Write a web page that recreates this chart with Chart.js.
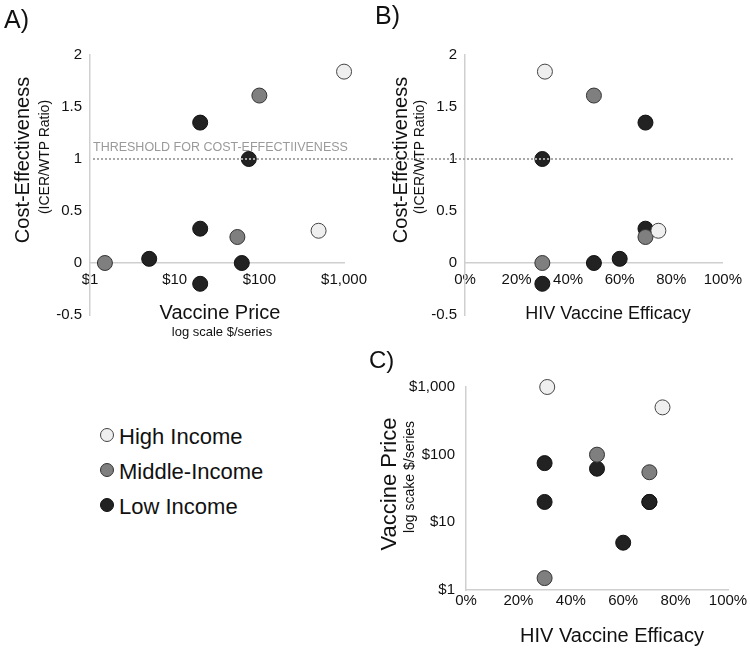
<!DOCTYPE html>
<html>
<head>
<meta charset="utf-8">
<title>HIV vaccine cost-effectiveness</title>
<script src="https://cdn.jsdelivr.net/npm/chart.js@4.4.0/dist/chart.umd.min.js"></script>
<style>
  body { margin: 0; background: #fff; }
  #page { position: relative; width: 750px; height: 650px; overflow: hidden; font-family: "Liberation Sans", Arial, sans-serif; color: #111; }
  canvas { position: absolute; }
  .txt { position: absolute; white-space: nowrap; line-height: 1; }
  .rot { transform: translate(-50%, -50%) rotate(-90deg); }
  .ctr { transform: translate(-50%, -50%); }
  .legend-row { position: absolute; left: 100px; font-size: 22px; line-height: 1; white-space: nowrap; }
  .legend-row span.dot { display: inline-block; width: 12px; height: 12px; border-radius: 50%; border: 1px solid #333; margin-right: 5px; vertical-align: 2px; }
</style>
</head>
<body>
<div id="page">
  <canvas id="chart-a" style="left:0;top:0" width="375" height="345"></canvas>
  <canvas id="chart-b" style="left:375px;top:0" width="375" height="345"></canvas>
  <canvas id="chart-c" style="left:375px;top:320px" width="375" height="330"></canvas>

  <div class="txt" style="left:4px;top:7px;font-size:25px">A)</div>
  <div class="txt" style="left:375px;top:3px;font-size:25px">B)</div>
  <div class="txt" style="left:369px;top:348px;font-size:24px">C)</div>

  <div class="txt" style="left:93px;top:141px;font-size:12.5px;color:#9a9a9a">THRESHOLD FOR COST-EFFECTIIVENESS</div>

  <div class="txt rot" style="left:22px;top:160px;font-size:20px">Cost-Effectiveness</div>
  <div class="txt rot" style="left:44px;top:157px;font-size:14px">(ICER/WTP Ratio)</div>
  <div class="txt ctr" style="left:220px;top:312px;font-size:20px">Vaccine Price</div>
  <div class="txt ctr" style="left:222px;top:331px;font-size:13px">log scale $/series</div>

  <div class="txt rot" style="left:400px;top:160px;font-size:20px">Cost-Effectiveness</div>
  <div class="txt rot" style="left:419px;top:157px;font-size:14px">(ICER/WTP Ratio)</div>
  <div class="txt ctr" style="left:608px;top:313px;font-size:18px">HIV Vaccine Efficacy</div>

  <div class="txt rot" style="left:389px;top:484px;font-size:22px">Vaccine Price</div>
  <div class="txt rot" style="left:409px;top:477px;font-size:14px">log scake $/series</div>
  <div class="txt ctr" style="left:612px;top:635px;font-size:20px">HIV Vaccine Efficacy</div>

  <div id="legend"></div>
</div>

<script>
// income groups
var groupNames = ["High Income", "Middle-Income", "Low Income"];
var groupFill = ["#efefef", "#7f7f7f", "#222222"];
var groupBorder = ["#444444", "#333333", "#111111"];

// vaccine price ($/series), efficacy and ICER/WTP ratio for each scenario
var highPrice = [1000, 500];
var highEfficacy = [0.31, 0.75];
var highRatio = [1.84, 0.31];

var midPrice = [1.5, 55, 100];
var midEfficacy = [0.30, 0.70, 0.50];
var midRatio = [0.0, 0.25, 1.61];

var lowPrice = [5, 62, 75, 20, 20, 20];
var lowEfficacy = [0.60, 0.50, 0.30, 0.70, 0.70, 0.30];
var lowRatio = [0.04, 0.0, 1.0, 1.35, 0.33, -0.2];

// ticks
var priceTicks = [1, 10, 100, 1000];
var efficacyTicks = [0, 0.2, 0.4, 0.6, 0.8, 1];
var ratioTicks = [-0.5, 0, 0.5, 1, 1.5, 2];
var threshold = 1;

var prices = [highPrice, midPrice, lowPrice];
var efficacies = [highEfficacy, midEfficacy, lowEfficacy];
var ratios = [highRatio, midRatio, lowRatio];

var fontFamily = '"Liberation Sans", Arial, sans-serif';
var axisGrey = "#cfcfcf";

function makeSets(xs, ys) {
  return groupNames.map(function (name, g) {
    return {
      label: name,
      data: xs[g].map(function (x, i) { return { x: x, y: ys[g][i] }; }),
      backgroundColor: groupFill[g],
      borderColor: groupBorder[g],
      borderWidth: 1,
      pointRadius: 7.5,
      pointHoverRadius: 7.5,
      clip: false
    };
  });
}

function money(v) {
  return "$" + Number(v).toLocaleString("en-US");
}
function pct(v) {
  return Math.round(v * 100) + "%";
}
function plain(v) {
  return String(v);
}

// dotted threshold line, drawn over the points like the original
function thresholdLine(x0, x1) {
  return {
    id: "threshold",
    afterDatasetsDraw: function (chart) {
      var ctx = chart.ctx;
      var y = chart.scales.y.getPixelForValue(threshold);
      ctx.save();
      ctx.strokeStyle = "#a8a8a8";
      ctx.lineWidth = 2;
      ctx.setLineDash([2, 2]);
      ctx.beginPath();
      ctx.moveTo(x0(chart), y);
      ctx.lineTo(x1(chart), y);
      ctx.stroke();
      ctx.restore();
    }
  };
}

function fixWidth(w) { return function (s) { s.width = w; }; }
function fixHeight(h) { return function (s) { s.height = h; }; }
function setTicks(list) {
  return function (s) { s.ticks = list.map(function (v) { return { value: v }; }); };
}

var baseOpts = {
  responsive: false,
  animation: false,
  events: [],
  plugins: { legend: { display: false }, tooltip: { enabled: false } }
};

function ratioAxis() {
  return {
    min: -0.5, max: 2,
    afterFit: fixWidth(90),
    afterBuildTicks: setTicks(ratioTicks),
    grid: { display: false, drawTicks: false },
    border: { display: true, color: axisGrey, width: 1.5 },
    ticks: { padding: 8, color: "#111", font: { family: fontFamily, size: 15 }, callback: plain }
  };
}

// A) price vs cost-effectiveness
new Chart(document.getElementById("chart-a"), {
  type: "scatter",
  data: { datasets: makeSets(prices, ratios) },
  options: Object.assign({}, baseOpts, {
    layout: { padding: { left: 0, top: 55, right: 27, bottom: 30 } },
    scales: {
      x: {
        type: "logarithmic",
        position: { y: 0 },
        min: 1, max: 1000,
        afterBuildTicks: setTicks(priceTicks),
        grid: { display: false, drawTicks: false },
        border: { display: true, color: axisGrey, width: 1.5 },
        ticks: { padding: 8, autoSkip: false, maxRotation: 0, color: "#111", font: { family: fontFamily, size: 15 }, callback: money }
      },
      y: ratioAxis()
    }
  }),
  plugins: [thresholdLine(function (c) { return c.chartArea.left + 3; }, function (c) { return c.width; })]
});

// B) efficacy vs cost-effectiveness
new Chart(document.getElementById("chart-b"), {
  type: "scatter",
  data: { datasets: makeSets(efficacies, ratios) },
  options: Object.assign({}, baseOpts, {
    layout: { padding: { left: 0, top: 55, right: 22, bottom: 30 } },
    scales: {
      x: {
        type: "linear",
        position: { y: 0 },
        min: 0, max: 1,
        afterBuildTicks: setTicks(efficacyTicks),
        grid: { display: false, drawTicks: false },
        border: { display: true, color: axisGrey, width: 1.5 },
        ticks: { padding: 8, autoSkip: false, maxRotation: 0, color: "#111", font: { family: fontFamily, size: 15 }, callback: pct }
      },
      y: ratioAxis()
    }
  }),
  plugins: [thresholdLine(function (c) { return 0; }, function (c) { return c.chartArea.right + 10; })]
});

// C) efficacy vs price
new Chart(document.getElementById("chart-c"), {
  type: "scatter",
  data: { datasets: makeSets(efficacies, prices) },
  options: Object.assign({}, baseOpts, {
    layout: { padding: { left: 0, top: 67, right: 22, bottom: 0 } },
    scales: {
      x: {
        type: "linear",
        min: 0, max: 1,
        afterFit: fixHeight(60),
        afterBuildTicks: setTicks(efficacyTicks),
        grid: { display: false, drawTicks: false },
        border: { display: true, color: axisGrey, width: 1.5 },
        ticks: { padding: 2, autoSkip: false, maxRotation: 0, color: "#111", font: { family: fontFamily, size: 15 }, callback: pct }
      },
      y: {
        type: "logarithmic",
        min: 1, max: 1000,
        afterFit: fixWidth(91),
        afterBuildTicks: setTicks(priceTicks),
        grid: { display: false, drawTicks: false },
        border: { display: true, color: axisGrey, width: 1.5 },
        ticks: { padding: 11, color: "#111", font: { family: fontFamily, size: 15 }, callback: money }
      }
    }
  })
});

// legend
var legend = document.getElementById("legend");
var legendTops = [426, 461, 496];
groupNames.forEach(function (name, g) {
  var row = document.createElement("div");
  row.className = "legend-row";
  row.style.top = legendTops[g] + "px";
  row.innerHTML = '<span class="dot" style="background:' + groupFill[g] + ';border-color:' + groupBorder[g] + '"></span>' + name;
  legend.appendChild(row);
});
</script>
</body>
</html>
